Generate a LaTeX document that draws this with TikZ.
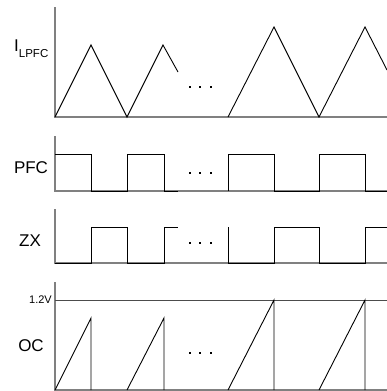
\documentclass[tikz,border=0pt]{standalone}
\usepackage{fontspec}
\setmainfont{Liberation Sans}
\begin{document}
\begin{tikzpicture}[x=1pt,y=-1pt,
  axis/.style={draw=black!50,line width=1.8pt},
  wave/.style={draw=black,line width=0.9pt,line join=miter},
  lbl/.style={inner sep=0pt,font=\fontsize{17}{17}\selectfont},
  small/.style={inner sep=0pt,font=\fontsize{11}{11}\selectfont},
  dot/.style={fill=black,minimum size=2pt,inner sep=0pt}]
\useasboundingbox (0,0) rectangle (387,391);
% axes
\draw[axis] (55,7) -- (55,117) -- (387,117);
\draw[axis] (55,136) -- (55,191) -- (387,191);
\draw[axis] (55,209) -- (55,263) -- (387,263);
\draw[axis] (55,282) -- (55,390) -- (387,390);
% 1.2V reference line
\draw[black!70,line width=0.9pt,dash pattern=on 0.4pt off 0.4pt] (55,300) -- (387,300);
% I_LPFC triangles
\draw[wave] (55,117) -- (91,45) -- (127,117) -- (163,45) -- (178,72);
\draw[wave] (228,117) -- (274,27) -- (319,117) -- (365,27) -- (387,70);
% PFC
\draw[wave] (55,154) -- (91,154) -- (91,191) -- (127,191) -- (127,154) -- (164,154) -- (164,191) -- (178,191);
\draw[wave] (228,191) -- (228,154) -- (274,154) -- (274,191) -- (319,191) -- (319,154) -- (365,154) -- (365,191) -- (387,191);
% ZX
\draw[wave] (55,263) -- (91,263) -- (91,227) -- (127,227) -- (127,263) -- (164,263) -- (164,227) -- (178,227);
\draw[wave] (228,227) -- (228,263) -- (274,263) -- (274,227) -- (319,227) -- (319,263) -- (365,263) -- (365,227) -- (387,227);
% OC
\draw[wave] (55,390) -- (91,318) -- (91,390);
\draw[wave] (127,390) -- (164,318) -- (164,390);
\draw[wave] (228,390) -- (274,300) -- (274,390);
\draw[wave] (319,390) -- (365,300) -- (365,390);
% dots
\foreach \y/\n in {87/a,173/b,243/c,353/d}{
  \node[dot] (\n1) at (190,\y) {};
  \node[dot] (\n2) at (200,\y) {};
  \node[dot] (\n3) at (211,\y) {};
}
% labels
\node[lbl,anchor=base west] (il) at (14,51) {I\raisebox{-6pt}{\fontsize{11.5}{11.5}\selectfont LPFC}};
\node[lbl,anchor=base] (pfc) at (31,173) {PFC};
\node[lbl,anchor=base] (zx) at (30,246) {ZX};
\node[lbl,anchor=base] (oc) at (31,351) {OC};
\node[small,anchor=east] (v12) at (52,300) {1.2V};
\end{tikzpicture}
\end{document}
